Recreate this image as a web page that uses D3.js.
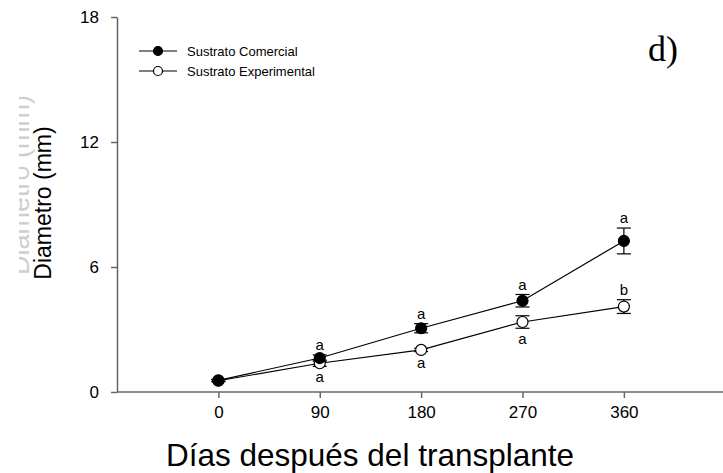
<!DOCTYPE html>
<meta charset="utf-8">
<script src="https://cdn.jsdelivr.net/npm/d3@7"></script>
<style>
body {margin: 0; background: #fff;}
text {font-family: Arial, "Liberation Sans", sans-serif;}
.axis path, .axis line {stroke: #666; stroke-width: 1.5;}
.letter {font-size: 15px; text-anchor: middle;}
.legend text {font-size: 13px;}
</style>
<div id="vis"></div>
<script>
// data
var days = [0, 90, 180, 270, 360];
var comercial = [0.56, 1.63, 3.06, 4.38, 7.25];
var comercialErr = [0.05, 0.15, 0.22, 0.3, 0.62];
var experimental = [0.54, 1.38, 2.02, 3.36, 4.1];
var experimentalErr = [0.05, 0.15, 0.08, 0.3, 0.33];
var lettersTop = ["", "a", "a", "a", "a"];      // above comercial
var lettersBottom = ["", "a", "a", "a", "b"];   // experimental (b sits above)
var yTicks = [0, 6, 12, 18];

var w = 723, h = 473;
var margin = {top: 17, right: 0, bottom: 81, left: 117};
var width = w - margin.left - margin.right,
    height = h - margin.top - margin.bottom;

var svg = d3.select("#vis").append("svg")
    .attr("width", w).attr("height", h);

// faint leftover label behind the y title, mostly cut off
svg.append("text")
  .attr("transform", "translate(29,185) rotate(-90)")
  .attr("text-anchor", "middle").style("font-size", "27px").attr("fill", "#b0b0b0")
  .attr("opacity", 0.6)
  .text("Diámetro (mm)");
svg.append("rect").attr("x", 0).attr("y", 60).attr("width", 19).attr("height", 260)
  .attr("fill", "#fff");

var g = svg.append("g")
    .attr("transform", "translate(" + margin.left + "," + margin.top + ")");

var x = d3.scaleLinear().domain([-90, 448]).range([0, width]);
var y = d3.scaleLinear().domain([0, 18]).range([height, 0]);

// axes
g.append("g").attr("class", "axis")
    .attr("transform", "translate(0," + height + ")")
    .call(d3.axisBottom(x).tickValues(days).tickSize(6).tickSizeOuter(0).tickPadding(8))
    .call(function(a) {
      a.select(".domain").attr("d", "M0,0H" + (width + 10));
      a.selectAll("text").attr("font-size", 17).attr("fill", "#000");
    });

g.append("g").attr("class", "axis")
    .call(d3.axisLeft(y).tickValues(yTicks).tickSize(6).tickSizeOuter(0).tickPadding(12))
    .call(function(a) { a.selectAll("text").attr("font-size", 17).attr("fill", "#000"); });

// lines
var line = d3.line().x(function(d, i) { return x(days[i]); }).y(function(d) { return y(d); });
[comercial, experimental].forEach(function(s) {
  g.append("path").datum(s).attr("d", line)
    .attr("fill", "none").attr("stroke", "#000").attr("stroke-width", 1.2);
});

// error bars + markers
function drawSeries(vals, errs, fill) {
  var grp = g.append("g");
  vals.forEach(function(v, i) {
    var cx = x(days[i]);
    grp.append("line").attr("x1", cx).attr("x2", cx)
      .attr("y1", y(v + errs[i])).attr("y2", y(v - errs[i]))
      .attr("stroke", "#000").attr("stroke-width", 1.2);
    [v + errs[i], v - errs[i]].forEach(function(e) {
      grp.append("line").attr("x1", cx - 7).attr("x2", cx + 7)
        .attr("y1", y(e)).attr("y2", y(e))
        .attr("stroke", "#000").attr("stroke-width", 1.2);
    });
  });
  grp.selectAll("circle").data(vals).enter().append("circle")
    .attr("cx", function(d, i) { return x(days[i]); })
    .attr("cy", function(d) { return y(d); })
    .attr("r", 5.5)
    .attr("fill", fill).attr("stroke", "#000").attr("stroke-width", 1.2);
}
drawSeries(experimental, experimentalErr, "#fff");
drawSeries(comercial, comercialErr, "#000");

// significance letters
g.selectAll(".lt").data(lettersTop).enter().append("text")
  .attr("class", "letter")
  .attr("x", function(d, i) { return x(days[i]); })
  .attr("y", function(d, i) { return y(comercial[i] + comercialErr[i]) - 5; })
  .text(function(d) { return d; });

g.selectAll(".lb").data(lettersBottom).enter().append("text")
  .attr("class", "letter")
  .attr("x", function(d, i) { return x(days[i]); })
  .attr("y", function(d, i) {
    return d == "b" ? y(experimental[i] + experimentalErr[i]) - 5
                    : y(experimental[i] - experimentalErr[i]) + 16;
  })
  .text(function(d) { return d; });

// legend
var legend = svg.append("g").attr("class", "legend");
var items = [["Sustrato Comercial", "#000"], ["Sustrato Experimental", "#fff"]];
items.forEach(function(it, i) {
  var ly = 51 + i * 20;
  legend.append("line").attr("x1", 139).attr("x2", 177).attr("y1", ly).attr("y2", ly)
    .attr("stroke", "#000").attr("stroke-width", 1.2);
  legend.append("circle").attr("cx", 158).attr("cy", ly).attr("r", 4.5)
    .attr("fill", it[1]).attr("stroke", "#000").attr("stroke-width", 1.2);
  legend.append("text").attr("x", 187).attr("y", ly + 5).text(it[0]);
});

// panel label
svg.append("text").attr("x", 648).attr("y", 61)
  .style("font-family", "'Liberation Serif', 'Times New Roman', serif")
  .style("font-size", "36px").text("d)");

// axis titles
svg.append("text")
  .attr("transform", "translate(51,203) rotate(-90)")
  .attr("text-anchor", "middle").style("font-size", "23px")
  .text("Diametro (mm)");
svg.append("text")
  .attr("x", 370).attr("y", 466)
  .attr("text-anchor", "middle").style("font-size", "31.5px")
  .text("Días después del transplante");
</script>
